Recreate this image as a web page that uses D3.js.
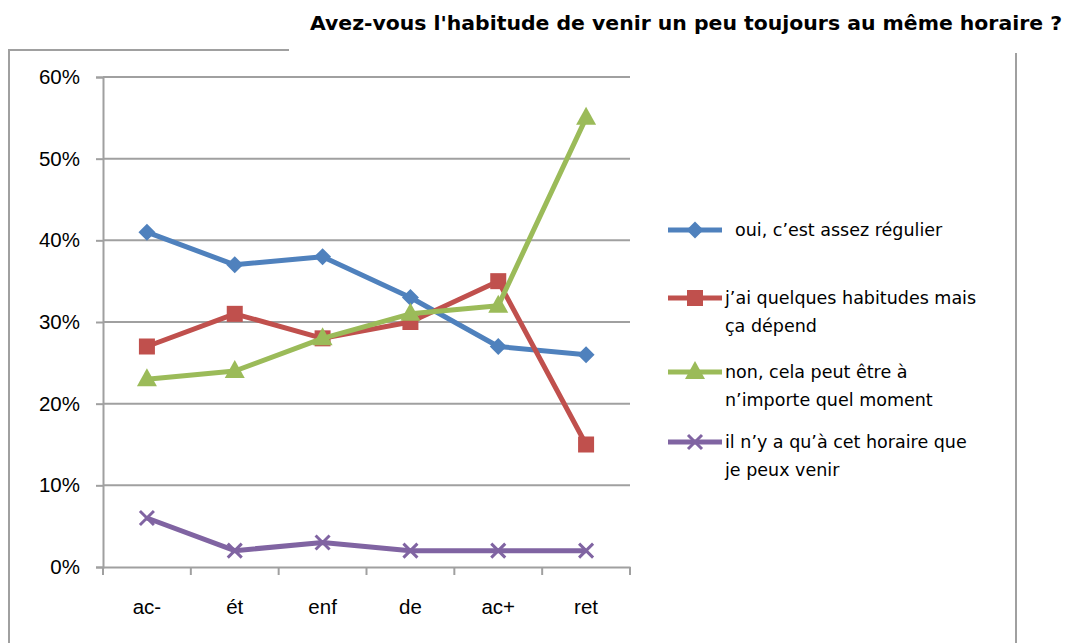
<!DOCTYPE html>
<html><head><meta charset="utf-8">
<script src="https://cdn.jsdelivr.net/npm/d3@7"></script>
<style>body{margin:0;background:#fff}svg{display:block}</style>
</head><body><svg id="c" width="1068" height="643"></svg>
<script>
const categories = ["ac-", "ét", "enf", "de", "ac+", "ret"];
const seriesNames = [
  ["oui, c\u2019est assez régulier"],
  ["j\u2019ai quelques habitudes mais", "ça dépend"],
  ["non, cela peut être à", "n\u2019importe quel moment"],
  ["il n\u2019y a qu\u2019à cet horaire que", "je peux venir"]
];
const oui = [41, 37, 38, 33, 27, 26];
const quelques = [27, 31, 28, 30, 35, 15];
const non = [23, 24, 28, 31, 32, 55];
const seul = [6, 2, 3, 2, 2, 2];
const yTicks = [0, 10, 20, 30, 40, 50, 60];
const title = "Avez-vous l'habitude de venir un peu toujours au même horaire ?";

const colors = ["#4F81BD", "#C0504D", "#9BBB59", "#8064A2"];
const markers = ["diamond", "square", "triangle", "cross"];
const values = [oui, quelques, non, seul];

const svg = d3.select("#c");
const font = "'Liberation Sans', Arial, sans-serif";
const wfont = "'DejaVu Sans', sans-serif";
const grey = "#A0A0A0";

// frame fragments
svg.append("path").attr("d", "M9,643 V50 H289").attr("fill", "none").attr("stroke", grey).attr("stroke-width", 2);
svg.append("line").attr("x1", 1016).attr("x2", 1016).attr("y1", 53).attr("y2", 643).attr("stroke", grey).attr("stroke-width", 2);

svg.append("text").attr("x", 1062).attr("y", 30).attr("text-anchor", "end")
  .attr("font-family", wfont).attr("font-weight", "bold").attr("font-size", 19.5).attr("fill", "#000")
  .attr("textLength", 752).attr("lengthAdjust", "spacingAndGlyphs")
  .text(title);

const L = 103, R = 630, T = 77, B = 567;
const x = d3.scaleBand().domain(categories).range([L, R]);
const y = d3.scaleLinear().domain([0, 60]).range([B, T]);

// gridlines
svg.append("g").selectAll("line").data(yTicks.filter(d => d > 0)).join("line")
  .attr("x1", L).attr("x2", R).attr("y1", d => y(d)).attr("y2", d => y(d))
  .attr("stroke", grey).attr("stroke-width", 2);

const yAxis = svg.append("g").attr("transform", `translate(${L},0)`)
  .call(d3.axisLeft(y).tickValues(yTicks).tickFormat(d => d + "%").tickSize(7).tickPadding(16));
const xAxis = svg.append("g").attr("transform", `translate(0,${B})`)
  .call(d3.axisBottom(x).tickSize(0).tickPadding(32));
// x boundary ticks
svg.append("g").selectAll("line").data(d3.range(categories.length + 1)).join("line")
  .attr("x1", i => L + i * x.step()).attr("x2", i => L + i * x.step())
  .attr("y1", B).attr("y2", B + 8).attr("stroke", grey).attr("stroke-width", 2);

[yAxis, xAxis].forEach(g => {
  g.selectAll("path.domain").attr("stroke", grey).attr("stroke-width", 2);
  g.selectAll(".tick line").attr("stroke", grey).attr("stroke-width", 2);
  g.selectAll("text").attr("font-family", font).attr("font-size", 20.5).attr("fill", "#000");
});

function marker(g, type, color, cx, cy) {
  if (type === "diamond") {
    g.append("path").attr("d", `M${cx},${cy-8.5}L${cx+8.5},${cy}L${cx},${cy+8.5}L${cx-8.5},${cy}Z`).attr("fill", color);
  } else if (type === "square") {
    g.append("rect").attr("x", cx - 8).attr("y", cy - 8).attr("width", 16).attr("height", 16).attr("fill", color);
  } else if (type === "triangle") {
    g.append("path").attr("d", `M${cx},${cy-11}L${cx+10},${cy+7}L${cx-10},${cy+7}Z`).attr("fill", color);
  } else {
    g.append("path").attr("d", `M${cx-7},${cy-7}L${cx+7},${cy+7}M${cx+7},${cy-7}L${cx-7},${cy+7}`)
      .attr("stroke", color).attr("stroke-width", 3);
  }
}

const line = d3.line().x((d, i) => x(categories[i]) + x.bandwidth() / 2).y(d => y(d));
values.forEach((vals, s) => {
  const g = svg.append("g");
  g.append("path").attr("d", line(vals)).attr("fill", "none").attr("stroke", colors[s])
    .attr("stroke-width", 5).attr("stroke-linejoin", "round");
  vals.forEach((v, i) => marker(g, markers[s], colors[s], x(categories[i]) + x.bandwidth() / 2, y(v)));
});

// legend
const legY = [230, 298, 372, 442];
seriesNames.forEach((lines, s) => {
  const g = svg.append("g");
  g.append("line").attr("x1", 668).attr("x2", 722).attr("y1", legY[s]).attr("y2", legY[s])
    .attr("stroke", colors[s]).attr("stroke-width", 5);
  marker(g, markers[s], colors[s], 695, legY[s]);
  lines.forEach((t, j) => {
    g.append("text").attr("x", s === 0 ? 735 : 725).attr("y", legY[s] + 6 + j * 28)
      .attr("font-family", wfont).attr("font-size", 17.5).attr("fill", "#000").text(t);
  });
});
</script></body></html>
